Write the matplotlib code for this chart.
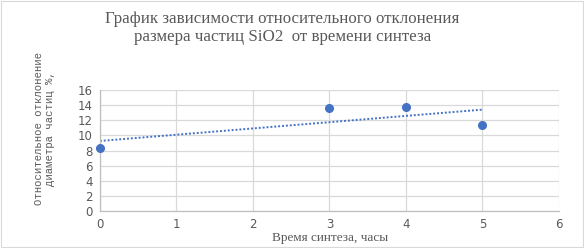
import numpy as np
import matplotlib.pyplot as plt
from matplotlib.patches import Rectangle

# время синтеза, часы / относительное отклонение, %
hours = [0, 3, 4, 5]
deviation = [8.3, 13.6, 13.7, 11.4]

xticks = [0, 1, 2, 3, 4, 5, 6]
yticks = [0, 2, 4, 6, 8, 10, 12, 14, 16]

blue = '#4472C4'
grey_txt = '#595959'

fig = plt.figure(figsize=(5.84, 2.48), dpi=100)
fig.patches.append(Rectangle((0.002, 0.004), 0.996, 0.992, transform=fig.transFigure,
                             fill=False, edgecolor='#D9D9D9', linewidth=0.8))
ax = fig.add_axes([0.171, 0.149, 0.786, 0.488])

# linear trendline like excel
k, b = np.polyfit(hours, deviation, 1)
xt = np.array([min(hours), max(hours)])
ax.plot(xt, k * xt + b, linestyle=(0, (1, 1)), color=blue, linewidth=1.4, zorder=2)
ax.plot(hours, deviation, 'o', color=blue, markersize=5.5, zorder=3, clip_on=False)

ax.set_xlim(0, 6)
ax.set_ylim(0, 16)
ax.set_xticks(xticks)
ax.set_yticks(yticks)
ax.grid(True, color='#D9D9D9', linewidth=0.9)
ax.set_axisbelow(True)
ax.tick_params(length=0, labelsize=8.5, labelcolor=grey_txt, pad=5)
for lab in ax.get_xticklabels() + ax.get_yticklabels():
    lab.set_family('DejaVu Sans')
for s in ['top', 'right']:
    ax.spines[s].set_visible(False)
for s in ['left', 'bottom']:
    ax.spines[s].set_color('#BFBFBF')
    ax.spines[s].set_linewidth(0.9)

fig.text(0.484, 0.887, 'График зависимости относительного отклонения\nразмера частиц SiO2  от времени синтеза',
         ha='center', va='center', fontsize=12.2, family='Liberation Serif',
         color=grey_txt, linespacing=1.1)
fig.text(0.565, 0.04, 'Время синтеза, часы', family='Liberation Serif', fontsize=9.5,
         color=grey_txt, ha='center', va='center')
fig.text(0.076, 0.482, 'Относительное отклонение\nдиаметра частиц %,', family='Liberation Mono',
         fontsize=7.7, color=grey_txt, rotation=90, ha='center', va='center',
         multialignment='center', linespacing=1.2)

plt.savefig('out.png', dpi=100)
